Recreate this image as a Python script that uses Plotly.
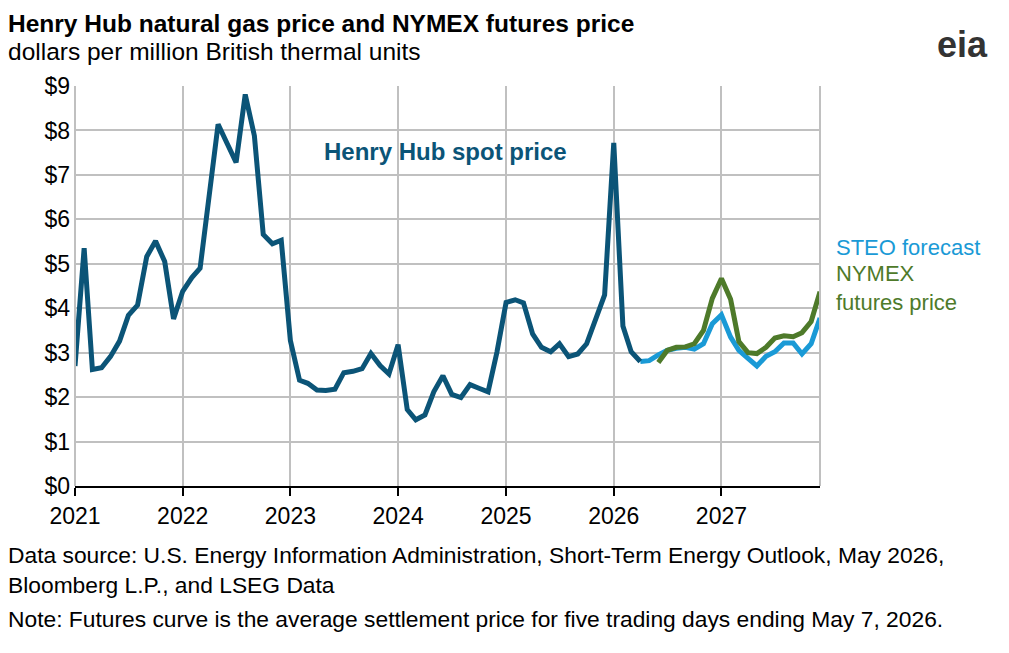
import plotly.graph_objects as go
import pandas as pd

hist_dates = pd.date_range("2021-01-01", "2026-04-01", freq="MS")
henry_hub = [2.70, 5.35, 2.62, 2.66, 2.91, 3.26, 3.84, 4.07, 5.16, 5.51, 5.05, 3.76,
             4.38, 4.69, 4.90, 6.60, 8.14, 7.70, 7.28, 8.81, 7.88, 5.66, 5.45, 5.53,
             3.27, 2.38, 2.31, 2.16, 2.15, 2.18, 2.55, 2.58, 2.64, 2.98, 2.71, 2.52,
             3.18, 1.72, 1.49, 1.60, 2.12, 2.48, 2.06, 1.99, 2.28, 2.20, 2.12, 3.01,
             4.13, 4.19, 4.12, 3.42, 3.12, 3.02, 3.20, 2.91, 2.97, 3.20, 3.80, 4.30,
             7.72, 3.60, 3.02, 2.80]
steo_dates = pd.date_range("2026-04-01", "2027-12-01", freq="MS")
steo = [2.80, 2.82, 2.95, 3.05, 3.10, 3.12, 3.08, 3.20, 3.65,
        3.85, 3.35, 3.05, 2.87, 2.70, 2.92, 3.02, 3.22, 3.22, 2.97, 3.20, 3.78]
fut_dates = pd.date_range("2026-06-01", "2027-12-01", freq="MS")
futures = [2.78, 3.05, 3.12, 3.13, 3.20, 3.50, 4.22,
           4.67, 4.20, 3.25, 3.00, 2.98, 3.12, 3.33, 3.38, 3.36, 3.45, 3.70, 4.37]
year_ticks = pd.date_range("2021-01-01", "2027-01-01", freq="YS")

OFF = 8  # page body margin
L, R, T, B = 75 - OFF, 820 - OFF, 86 - OFF, 486 - OFF

fig = go.Figure()
fig.add_trace(go.Scatter(x=steo_dates, y=steo, mode="lines", line=dict(color="#1a9ad6", width=5)))
fig.add_trace(go.Scatter(x=fut_dates, y=futures, mode="lines", line=dict(color="#4e7a2a", width=5)))
fig.add_trace(go.Scatter(x=hist_dates, y=henry_hub, mode="lines", line=dict(color="#0b5477", width=5)))

F = "Arial, Liberation Sans, sans-serif"
fig.update_layout(
    width=1009, height=653, showlegend=False,
    margin=dict(l=L, r=1009 - R, t=T, b=653 - B, autoexpand=False),
    plot_bgcolor="white", paper_bgcolor="white",
    font=dict(family=F, size=24, color="black"),
    xaxis=dict(range=["2021-01-01", "2027-12-01"], tickvals=year_ticks,
               ticktext=[str(d.year) for d in year_ticks],
               showgrid=True, gridcolor="#c0c0c0", gridwidth=2,
               showline=True, linecolor="black", linewidth=2,
               ticks="outside", ticklen=8, tickcolor="black", tickwidth=2,
               tickfont=dict(size=23), zeroline=False, automargin=False),
    yaxis=dict(range=[0, 9], dtick=1, tickprefix="$", showgrid=True,
               gridcolor="#c0c0c0", gridwidth=2, zeroline=False,
               tickfont=dict(size=23), ticks="", ticklabelstandoff=4, automargin=False),
    shapes=[
        dict(type="line", xref="paper", yref="paper", x0=1, x1=1, y0=0, y1=1,
             line=dict(color="#c0c0c0", width=2)),
        dict(type="line", xref="paper", yref="paper", x0=0, x1=0, y0=0, y1=1,
             line=dict(color="#c0c0c0", width=2)),
    ],
)
def ann(text, x, y, size=23, color="black", xanchor="left", bold=False):
    x -= OFF; y -= OFF
    fig.add_annotation(text=(f"<b>{text}</b>" if bold else text), xref="paper", yref="paper",
                       x=(x - L) / (R - L), y=(B - y) / (B - T), xanchor=xanchor, yanchor="top",
                       showarrow=False, align="left", font=dict(size=size, color=color, family=F))
ann("Henry Hub natural gas price and NYMEX futures price", 6, 8, size=24.5, bold=True)
ann("dollars per million British thermal units", 6, 36, size=24.5)
ann("Henry Hub spot price", 322, 136, size=24, color="#0b5477", bold=True)
ann("STEO forecast", 834, 233, size=22, color="#1a9ad6")
ann("NYMEX<br>futures price", 834, 259, size=22, color="#4e7a2a")
ann("Data source: U.S. Energy Information Administration, Short-Term Energy Outlook, May 2026,<br>Bloomberg L.P., and LSEG Data", 6, 540, size=22.8)
ann("Note: Futures curve is the average settlement price for five trading days ending May 7, 2026.", 6, 604, size=22.8)
ann("eia", 990, 22, size=36, color="#333333", xanchor="right", bold=True)
fig.write_html("out.html")
